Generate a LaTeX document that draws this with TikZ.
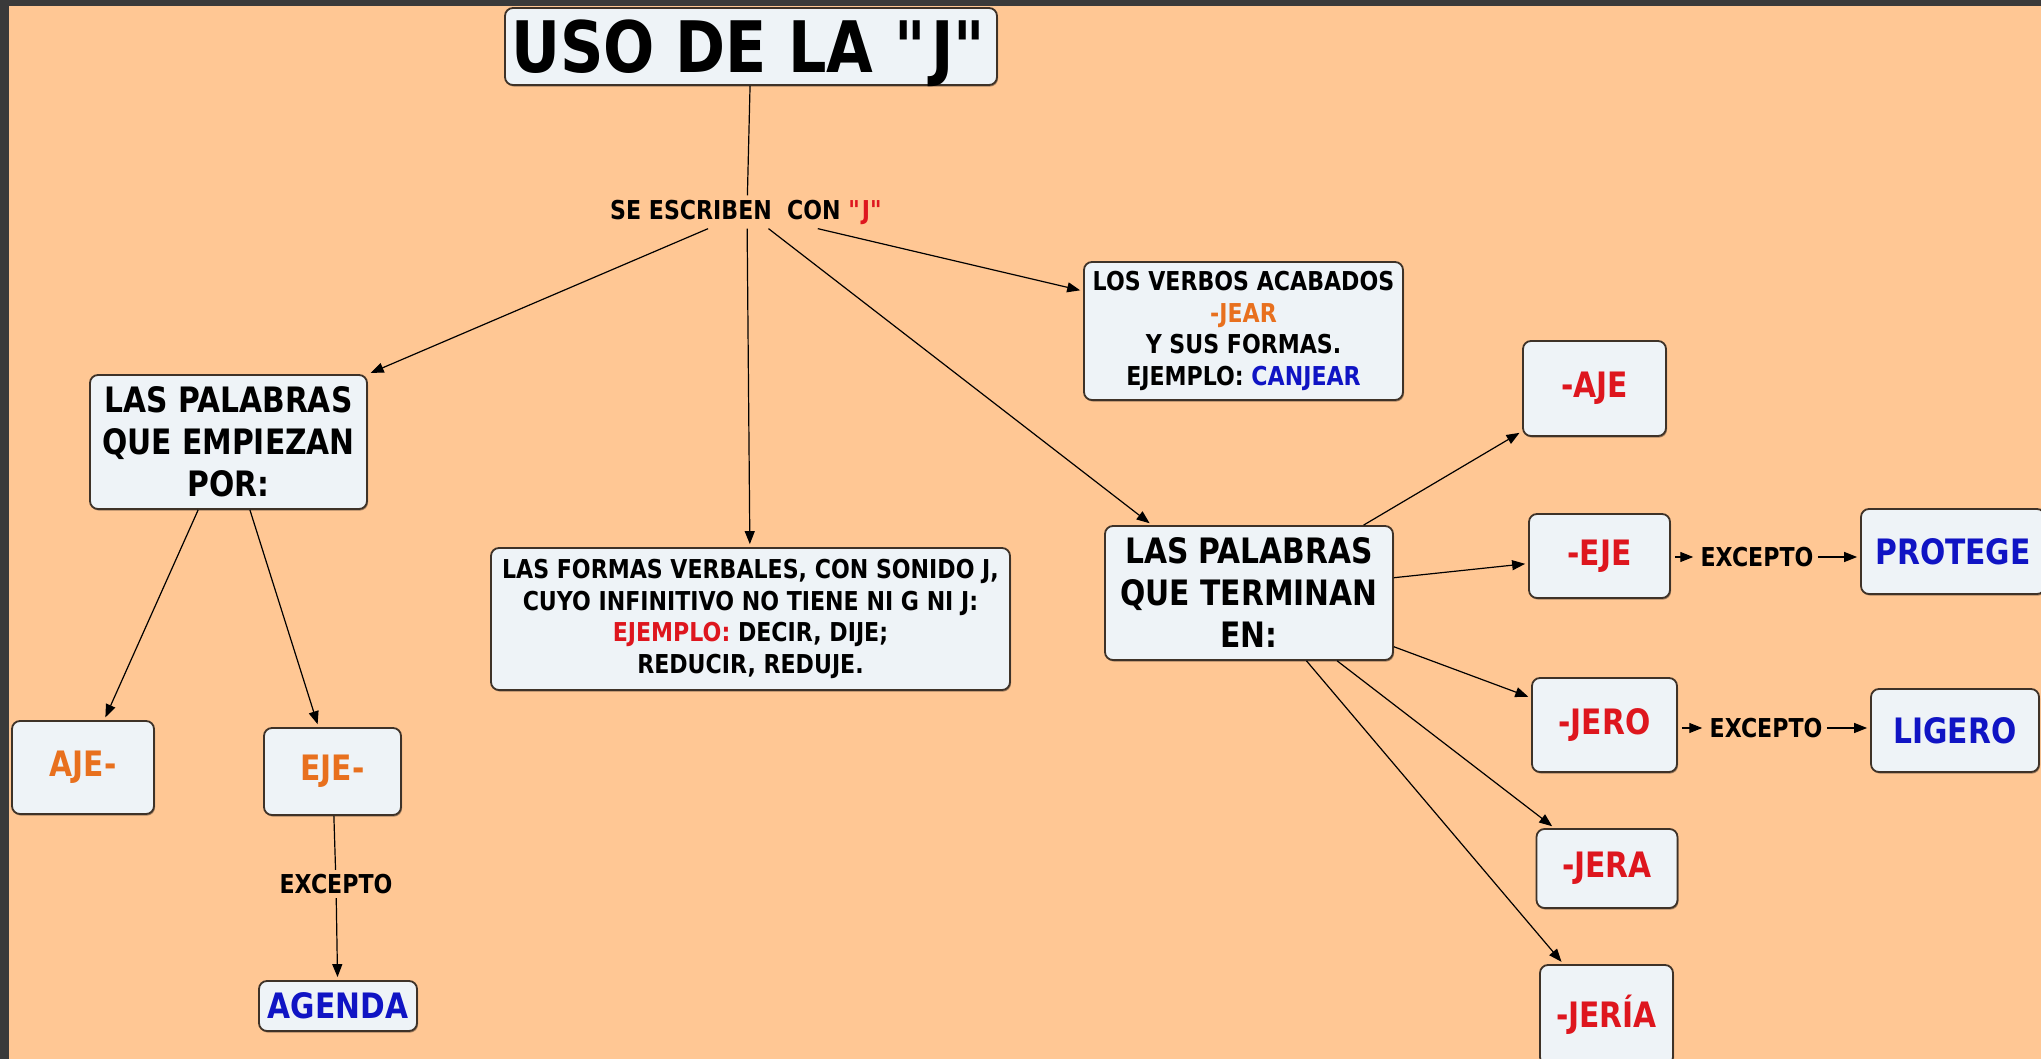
\documentclass[tikz,border=0pt]{standalone}
\usepackage{fontspec}
\setmainfont{DejaVu Sans}[FakeStretch=0.85]
\usepackage{xcolor}
\usepackage{tikz}
\usetikzlibrary{arrows.meta, shadows}

\definecolor{peach}{RGB}{255,199,148}
\definecolor{frame}{RGB}{58,58,58}
\definecolor{boxfill}{RGB}{238,243,247}
\definecolor{boxline}{RGB}{62,50,40}
\definecolor{jred}{RGB}{222,22,30}
\definecolor{jorange}{RGB}{232,112,30}
\definecolor{jblue}{RGB}{16,20,196}

\begin{document}
\begin{tikzpicture}[x=0.5pt, y=-0.5pt,
    box/.style={draw=boxline, fill=boxfill, line width=0.9pt, rounded corners=4pt,
        align=center, inner sep=0pt,
        drop shadow={shadow xshift=0.5pt, shadow yshift=-0.8pt, fill=black, opacity=0.35},
        font=\bfseries\fontsize{17.5}{21}\selectfont},
    small/.style={font=\bfseries\fontsize{13}{15.8}\selectfont},
    tag/.style={inner sep=2pt, font=\bfseries\fontsize{13}{15.8}\selectfont},
    link/.style={-{Triangle[length=6.5pt, width=5pt]}, line width=0.6pt, shorten >=1.5pt}]

    \useasboundingbox (0,0) rectangle (2041,1059);
    \fill[frame] (0,0) rectangle (2041,1059);
    \fill[peach] (9,6) rectangle (2041,1059);

    % title and first links
    \node (title) at (751,46.5) [box, minimum width=246pt, minimum height=38.5pt, text depth=0pt,
        font=\bfseries\fontsize{35.5}{40}\selectfont] {USO DE LA \textquotedbl J\textquotedbl};
    \node (se) at (747,212) [tag] {SE ESCRIBEN\ \ CON \textcolor{jred}{\textquotedbl J\textquotedbl}};

    \node (starts) at (228.5,442) [box, minimum width=138.5pt, minimum height=67pt]
        {LAS PALABRAS\\QUE EMPIEZAN\\POR:};
    \node (formas) at (750.5,619) [box, small, minimum width=259.5pt, minimum height=71pt]
        {LAS FORMAS VERBALES, CON SONIDO J,\\CUYO INFINITIVO NO TIENE NI G NI J:\\
         \textcolor{jred}{EJEMPLO:} DECIR, DIJE;\\REDUCIR, REDUJE.};
    \node (verbos) at (1243.5,331) [box, small, minimum width=159.5pt, minimum height=69pt]
        {LOS VERBOS ACABADOS\\\textcolor{jorange}{-JEAR}\\Y SUS FORMAS.\\
         EJEMPLO: \textcolor{jblue}{CANJEAR}};
    \node (ends) at (1249,593) [box, minimum width=144pt, minimum height=67pt]
        {LAS PALABRAS\\QUE TERMINAN\\EN:};

    % words that start with
    \node (preaje) at (83,767.5) [box, minimum width=71pt, minimum height=46.5pt,
        text=jorange] {AJE-};
    \node (preeje) at (332.5,771.5) [box, minimum width=68.5pt, minimum height=43.5pt,
        text=jorange] {EJE-};
    \node (exc1) at (336,884) [tag] {EXCEPTO};
    \node (agenda) at (338,1006) [box, minimum width=79pt, minimum height=25pt,
        text=jblue] {AGENDA};

    % words that end with
    \node (sufaje) at (1594.5,388.5) [box, minimum width=71.5pt, minimum height=47.5pt,
        text=jred] {-AJE};
    \node (sufeje) at (1599.5,556) [box, minimum width=70.5pt, minimum height=42pt,
        text=jred] {-EJE};
    \node (exc2) at (1757,557) [tag] {EXCEPTO};
    \node (protege) at (1953,551.5) [box, minimum width=92pt, minimum height=42.5pt,
        text=jblue] {PROTEGE};
    \node (jero) at (1604.5,725) [box, minimum width=72.5pt, minimum height=47pt,
        text=jred] {-JERO};
    \node (exc3) at (1766,728) [tag] {EXCEPTO};
    \node (ligero) at (1955,730.5) [box, minimum width=84pt, minimum height=41.5pt,
        text=jblue] {LIGERO};
    \node (jera) at (1607,868.5) [box, minimum width=70.5pt, minimum height=39.5pt,
        text=jred] {-JERA};
    \node (jeria) at (1606.5,1015) [box, minimum width=66.5pt, minimum height=50pt,
        text=jred] {-JERÍA};

    % connectors
    \draw[line width=0.6pt] (title) -- (se);
    \draw[link] (se) -- (starts.north east);
    \draw[link] (se) -- (formas);
    \draw[link] (se) -- (ends.145);
    \draw[link] (se) -- (verbos.166);
    \draw[link] (starts) -- (preaje);
    \draw[link] (starts) -- (preeje);
    \draw[line width=0.6pt] (preeje) -- (exc1);
    \draw[link] (exc1) -- (agenda);
    \foreach \s in {sufaje, sufeje, jero, jera, jeria}
        \draw[link] (ends) -- (\s);
    \draw[link, shorten <=2pt] (sufeje.east |- exc2) -- (exc2);
    \draw[link] (exc2) -- (exc2 -| protege.west);
    \draw[link, shorten <=2pt] (jero.east |- exc3) -- (exc3);
    \draw[link] (exc3) -- (exc3 -| ligero.west);
\end{tikzpicture}
\end{document}
